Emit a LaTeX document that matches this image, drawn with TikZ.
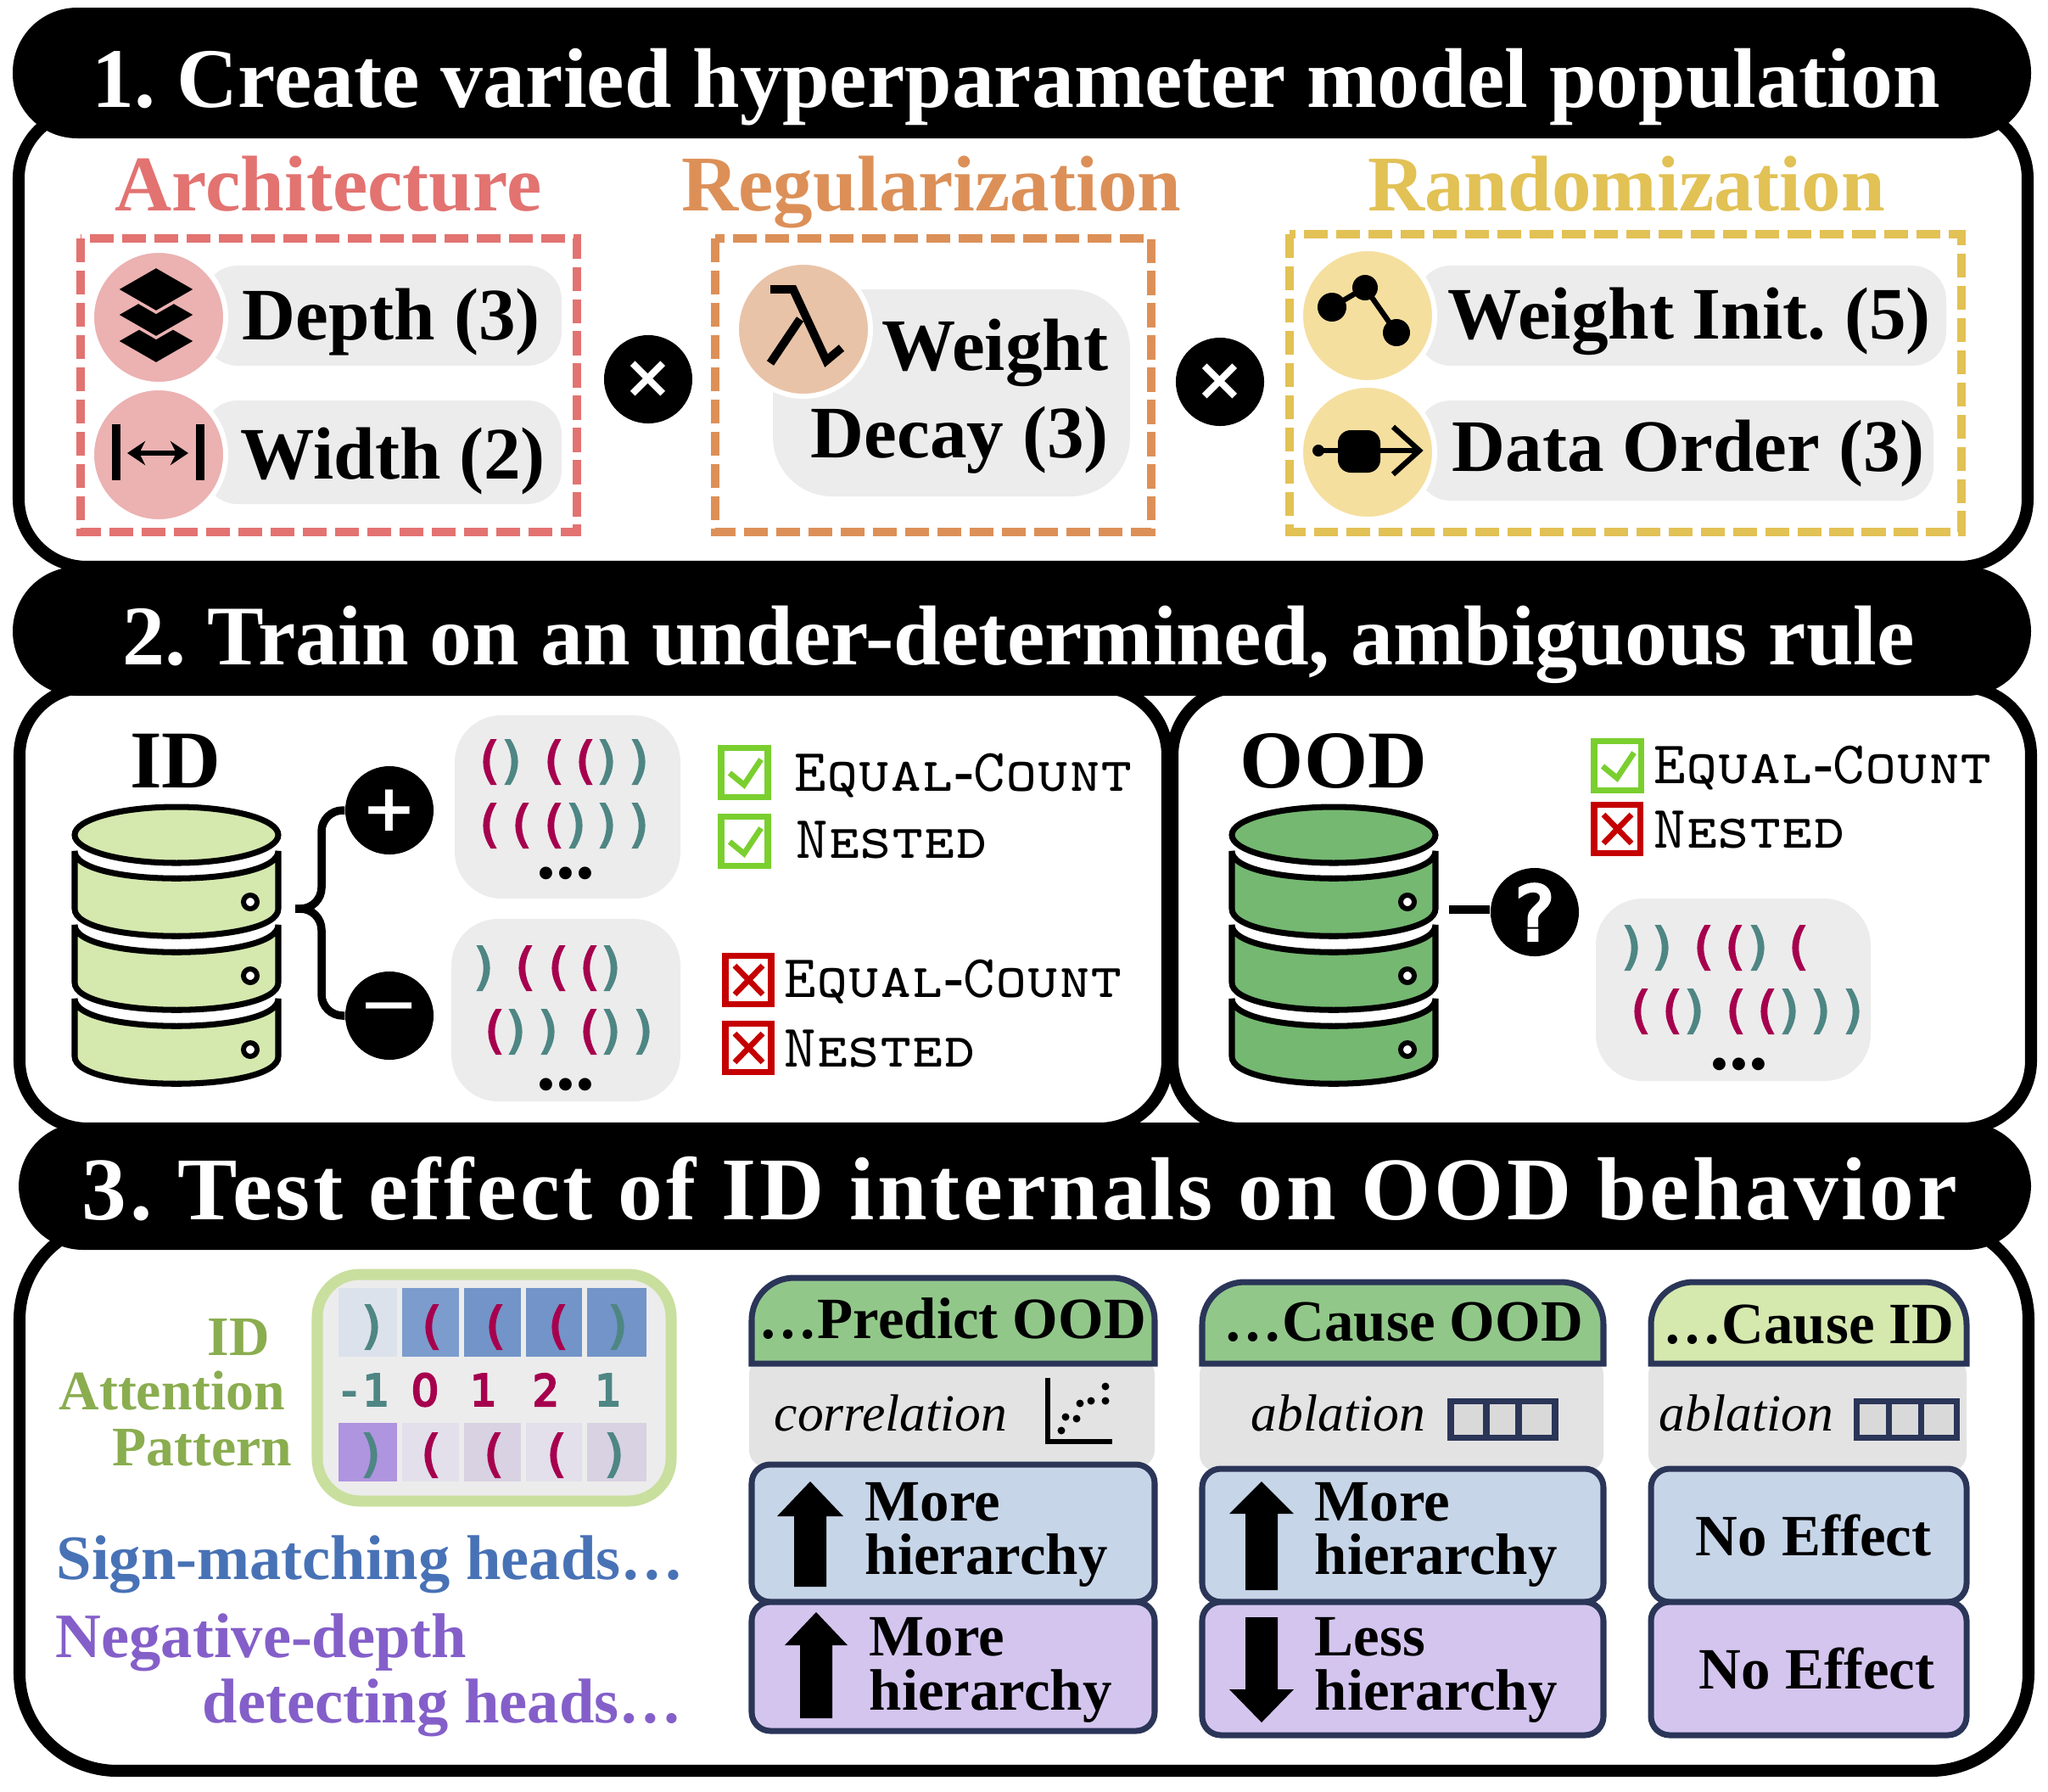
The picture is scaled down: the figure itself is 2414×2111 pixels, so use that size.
\documentclass[tikz,border=0pt]{standalone}
\usepackage{fontspec}
\setmainfont{Liberation Serif}
\newfontfamily\symfont{DejaVu Sans}
\newfontfamily\parfont[FakeBold=4]{DejaVu Sans Mono}
\newfontfamily\numfont[FakeBold=5]{DejaVu Sans Mono}
\newfontfamily\zerofont[FakeBold=5]{DejaVu Sans}
\usetikzlibrary{arrows.meta}

\definecolor{archred}{HTML}{E27371}
\definecolor{archpale}{HTML}{ECB1B1}
\definecolor{regorange}{HTML}{DC9058}
\definecolor{regpale}{HTML}{E9C3A7}
\definecolor{randyellow}{HTML}{E2C155}
\definecolor{randpale}{HTML}{F5DF9F}
\definecolor{cardgrey}{HTML}{ECECEC}
\definecolor{methgrey}{HTML}{E3E3E3}
\definecolor{ablgrey}{HTML}{D9D9D9}
\definecolor{idgreen}{HTML}{D5E8AE}
\definecolor{oodgreen}{HTML}{75B871}
\definecolor{hdrgreen}{HTML}{92C78A}
\definecolor{parred}{HTML}{A6004E}
\definecolor{parteal}{HTML}{4E8684}
\definecolor{okgreen}{HTML}{7ACF2F}
\definecolor{badred}{HTML}{C50000}
\definecolor{attnframe}{HTML}{C9DF9E}
\definecolor{attnolive}{HTML}{8AAD4F}
\definecolor{signblue}{HTML}{4872B6}
\definecolor{negpurple}{HTML}{845FC9}
\definecolor{resblue}{HTML}{C7D5E8}
\definecolor{respurple}{HTML}{D4C5EF}
\definecolor{navy}{HTML}{2A3558}
\definecolor{cellpale}{HTML}{DCE2EB}
\definecolor{cellmid}{HTML}{7C9CCD}
\definecolor{celldeep}{HTML}{7394C8}
\definecolor{negdeep}{HTML}{AF94E0}
\definecolor{negpale}{HTML}{E3E0EB}
\definecolor{negmid}{HTML}{D8D2E2}

\newcommand{\opn}{\textcolor{parred}{(}}
\newcommand{\cls}{\textcolor{parteal}{)}}
\newcommand{\eqcount}{Equal{\rmfamily\upshape\bfseries -}Count}
\newcommand{\parrow}[2]{\foreach \parx/\parch in {#2} \node[parglyph] (par-\parx-#1) at (\parx,#1) {\parch};}

\tikzset{
	panel/.style={draw=black,line width=4pt,fill=white},
	titlebar/.style={fill=black,rounded corners=0.76cm},
	lbl/.style={anchor=base west,inner sep=0pt},
	titletext/.style={lbl,text=white,font=\fontsize{28.4pt}{30pt}\selectfont\bfseries},
	cattext/.style={anchor=base,inner sep=0pt,font=\fontsize{26.45pt}{28pt}\selectfont\bfseries},
	itemtext/.style={lbl,font=\fontsize{24.8pt}{26pt}\selectfont\bfseries},
	dashbox/.style={line width=2.6pt,dash pattern=on 8pt off 2.8pt},
	iconcirc/.style={draw=white,line width=1.7pt},
	opcirc/.style={circle,fill=black,inner sep=0pt,text=white,minimum size=1.04cm},
	parglyph/.style={inner sep=0pt,font=\parfont\fontsize{16.5pt}{16pt}\selectfont},
	dbedge/.style={draw=black,line width=2pt},
	linkline/.style={draw=black,line width=2.7pt},
	ruletext/.style={lbl,font=\ttfamily\scshape\fontsize{20.3pt}{22pt}\selectfont},
	dotstext/.style={anchor=base,inner sep=0pt,font=\fontsize{26pt}{28pt}\selectfont\bfseries},
	attntext/.style={lbl,text=attnolive,font=\fontsize{18.7pt}{22pt}\selectfont\bfseries},
	headstext/.style={lbl,font=\fontsize{21.2pt}{24pt}\selectfont\bfseries},
	depthnum/.style={inner sep=0pt,font=\numfont\fontsize{14.5pt}{16pt}\selectfont},
	cardedge/.style={draw=navy,line width=2pt},
	restext/.style={lbl,font=\fontsize{19.6pt}{22pt}\selectfont\bfseries},
	methtext/.style={lbl,font=\fontsize{17.5pt}{20pt}\selectfont\itshape},
}

\begin{document}
\frenchspacing
\begin{tikzpicture}[x=0.01cm,y=-0.01cm]
	\useasboundingbox (0,0) rectangle (2414,2111);

	% panels and title bars
	\draw[panel,rounded corners=0.8cm] (22,130) rectangle (2390,668);
	\draw[panel,rounded corners=0.8cm] (1382,810) rectangle (2394,1330);
	\draw[panel,rounded corners=0.8cm] (23,810) rectangle (1376,1330);
	\draw[panel,rounded corners=1.15cm] (23,1440) rectangle (2391,2087);
	\fill[titlebar] (15,9) rectangle (2394,163);
	\fill[titlebar] (15,668) rectangle (2394,820);
	\fill[titlebar] (22,1323) rectangle (2394,1473);
	\node[titletext] (title1) at (108,126) {1. Create varied hyperparameter model population};
	\node[titletext,font=\fontsize{28.45pt}{30pt}\selectfont\bfseries] (title2) at (144,783) {2. Train on an under-determined, ambiguous rule};
	\node[titletext,font=\fontsize{30pt}{32pt}\selectfont\bfseries\addfontfeature{LetterSpace=3.5}] (title3) at (96,1437) {3. Test effect of ID internals on OOD behavior};

	% hyperparameters
	\node[cattext,text=archred] (archlbl) at (387,248) {Architecture};
	\node[cattext,text=regorange] (reglbl) at (1098,248) {Regularization};
	\node[cattext,text=randyellow] (randlbl) at (1917,248) {Randomization};
	\draw[dashbox,draw=archred] (95,281) rectangle (680,627);
	\draw[dashbox,draw=regorange] (843,281) rectangle (1357,627);
	\draw[dashbox,draw=randyellow] (1520,276) rectangle (2312,627);

	\fill[cardgrey,rounded corners=0.4cm] (240,313) rectangle (662,431);
	\fill[cardgrey,rounded corners=0.4cm] (240,472) rectangle (662,594);
	\fill[cardgrey,rounded corners=0.7cm] (911,341) rectangle (1332,585);
	\fill[cardgrey,rounded corners=0.4cm] (1670,313) rectangle (2294,431);
	\fill[cardgrey,rounded corners=0.4cm] (1670,472) rectangle (2279,590);
	\draw[iconcirc,fill=archpale] (187,374) circle (79);
	\draw[iconcirc,fill=archpale] (187,536) circle (79);
	\draw[iconcirc,fill=regpale] (947,388) circle (79);
	\draw[iconcirc,fill=randpale] (1612,372) circle (79);
	\draw[iconcirc,fill=randpale] (1612,533) circle (79);

	% layers icon
	\foreach \ly in {402,371,341}
		\draw[draw=archpale,line width=1pt,fill=black] (137,\ly) -- (184,\ly-27) -- (231,\ly) -- (184,\ly+27) -- cycle;
	% width icon
	\draw[line width=2.6pt] (137,500) -- (137,566);
	\draw[line width=2.6pt] (236,500) -- (236,566);
	\draw[line width=1.7pt,{Stealth[length=6pt,width=8pt]}-{Stealth[length=6pt,width=8pt]}] (150,534) -- (222,534);
	% lambda icon
	\draw[line width=2.8pt] (908,341) -- (935,341) -- (974,425) -- (992,410);
	\draw[line width=2.8pt] (943,376) -- (908,428);
	% graph icon
	\draw[line width=1.8pt] (1570,362) -- (1609,339) -- (1646,392);
	\fill (1570,362) circle (17);
	\fill (1609,339) circle (15);
	\fill (1646,392) circle (16);
	% data order icon
	\draw[line width=1.5pt] (1554,531) -- (1670,531);
	\draw[line width=1.8pt] (1642,503) -- (1673,531) -- (1642,559);
	\fill (1554,531) circle (7);
	\fill[rounded corners=0.15cm] (1577,507) rectangle (1627,557);

	\node[itemtext] (depth) at (285,400) {Depth (3)};
	\node[itemtext] (width) at (283,564) {Width (2)};
	\node[itemtext] (wdecay1) at (1039,436) {Weight};
	\node[itemtext] (wdecay2) at (955,539) {Decay (3)};
	\node[itemtext] (winit) at (1706,399) {Weight Init. (5)};
	\node[itemtext] (dorder) at (1711,555) {Data Order (3)};
	\node[opcirc,font=\symfont\bfseries\fontsize{20pt}{20pt}\selectfont] (times1) at (764,447) {×};
	\node[opcirc,font=\symfont\bfseries\fontsize{20pt}{20pt}\selectfont] (times2) at (1438,450) {×};

	% ID data
	\node[anchor=base,inner sep=0pt,font=\fontsize{27.5pt}{30pt}\selectfont\bfseries] (idlbl) at (207,928) {ID};
	\node[anchor=base,inner sep=0pt,font=\fontsize{27.5pt}{30pt}\selectfont\bfseries] (oodlbl) at (1572,928) {OOD};
	\foreach \dbx/\dbc in {208/idgreen,1572/oodgreen} {
		\draw[dbedge,fill=\dbc] (\dbx,984) ellipse [x radius=120,y radius=33];
		\foreach \ly in {1003,1090,1177} {
			\draw[dbedge,fill=\dbc] (\dbx-120,\ly) -- (\dbx-120,\ly+68) .. controls (\dbx-120,\ly+111) and (\dbx+120,\ly+111) .. (\dbx+120,\ly+68) -- (\dbx+120,\ly) .. controls (\dbx+120,\ly+43) and (\dbx-120,\ly+43) .. (\dbx-120,\ly) -- cycle;
			\draw[line width=1.7pt,fill=white] (\dbx+87,\ly+60) circle (8);
		}
	}
	\coordinate (idstack) at (348,1071);
	\coordinate (oodstack) at (1708,1072);
	\node[opcirc,font=\symfont\bfseries\fontsize{22pt}{22pt}\selectfont] (plus) at (459,955) {+};
	\node[opcirc,font=\symfont\fontsize{24.5pt}{24pt}\selectfont] (minus) at (459,1197) {\raisebox{-1.7pt}{−}};
	\node[opcirc,font=\zerofont\fontsize{25pt}{25pt}\selectfont] (qmark) at (1809,1075) {?};
	\draw[linkline,rounded corners=0.25cm] (idstack) -- (379,1071) -- (379,955) -- (plus);
	\draw[linkline,rounded corners=0.25cm] (idstack) -- (379,1071) -- (379,1197) -- (minus);
	\draw[linkline] (oodstack) -- (oodstack -| qmark.west);

	% example strings
	\fill[cardgrey,rounded corners=0.55cm] (536,843) rectangle (802,1059);
	\fill[cardgrey,rounded corners=0.55cm] (532,1083) rectangle (802,1298);
	\fill[cardgrey,rounded corners=0.55cm] (1881,1059) rectangle (2205,1274);
	\parrow{898}{576/\opn,604/\cls,652/\opn,689/\opn,716/\cls,754/\cls}
	\parrow{973}{576/\opn,614/\opn,652/\opn,680/\cls,716/\cls,754/\cls}
	\parrow{1141}{571/\cls,618/\opn,657/\opn,694/\opn,721/\cls}
	\parrow{1216}{582/\opn,609/\cls,647/\cls,694/\opn,721/\cls,759/\cls}
	\parrow{1117}{1924/\cls,1960/\cls,2007/\opn,2044/\opn,2073/\cls,2119/\opn}
	\parrow{1192}{1933/\opn,1970/\opn,1998/\cls,2045/\opn,2082/\opn,2110/\cls,2147/\cls,2185/\cls}
	\node[dotstext] (dots1) at (667,1035) {...};
	\node[dotstext] (dots2) at (667,1284) {...};
	\node[dotstext] (dots3) at (2050,1260) {...};

	% rule checks
	\foreach \bx/\by in {850/881,850/962,1879/873} {
		\draw[line width=2pt,draw=okgreen] (\bx,\by) rectangle ++(55,58);
		\draw[line width=1.9pt,draw=okgreen] (\bx+10,\by+30) -- (\bx+27,\by+44) -- (\bx+47,\by+14);
	}
	\foreach \bx/\by in {855/1126,855/1206,1879/948} {
		\draw[line width=2pt,draw=badred] (\bx,\by) rectangle ++(54,57);
		\draw[line width=1.9pt,draw=badred] (\bx+11,\by+12) -- (\bx+44,\by+46);
		\draw[line width=1.9pt,draw=badred] (\bx+44,\by+12) -- (\bx+11,\by+46);
	}
	\node[ruletext] (eq1) at (936,932) {\eqcount};
	\node[ruletext] (ne1) at (938,1011) {Nested};
	\node[ruletext] (eq2) at (924,1175) {\eqcount};
	\node[ruletext] (ne2) at (924,1257) {Nested};
	\node[ruletext] (eq3) at (1949,923) {\eqcount};
	\node[ruletext] (ne3) at (1949,999) {Nested};

	% attention pattern
	\draw[draw=attnframe,line width=3.7pt,fill=cardgrey,rounded corners=0.5cm] (374,1502) rectangle (791,1769);
	\foreach \xa/\xb/\ca/\cb in {399/468/cellpale/negdeep,474/541/cellmid/negpale,547/614/celldeep/negmid,620/686/celldeep/negpale,692/762/celldeep/negmid} {
		\fill[\ca] (\xa,1518) rectangle (\xb,1599);
		\fill[\cb] (\xa,1677) rectangle (\xb,1746);
	}
	\parrow{1564}{439/\cls,508/\opn,583/\opn,657/\opn,729/\cls}
	\parrow{1715}{438/\cls,507/\opn,581/\opn,655/\opn,725/\cls}
	\node[depthnum,text=parteal] (dm1) at (427,1638) {-1};
	\node[depthnum,text=parred,font=\zerofont\fontsize{14.5pt}{16pt}\selectfont] (d0) at (501,1638) {0};
	\node[depthnum,text=parred] (d1) at (569,1638) {1};
	\node[depthnum,text=parred] (d2) at (643,1638) {2};
	\node[depthnum,text=parteal] (d3) at (716,1638) {1};
	\node[attntext] (attn1) at (244,1597) {ID};
	\node[attntext] (attn2) at (69,1661) {Attention};
	\node[attntext] (attn3) at (132,1727) {Pattern};
	\node[headstext,text=signblue] (signh) at (66,1861) {Sign-matching heads…};
	\node[headstext,text=negpurple] (negh1) at (65,1953) {Negative-depth};
	\node[headstext,text=negpurple] (negh2) at (238,2030) {detecting heads…};

	% result columns
	\foreach \xl/\xr/\gy/\hc/\ty in {886/1361/1723/hdrgreen/1503,1417/1890/1728/hdrgreen/1508,1946/2318/1728/idgreen/1508} {
		\fill[methgrey,rounded corners=0.2cm] (\xl-3,1600) rectangle (\xr,\gy+6);
		\draw[cardedge,fill=\hc] (\xl,1607) {[rounded corners=0.5cm] -- (\xl,\ty+3) -- (\xr,\ty+3)} -- (\xr,1607) -- cycle;
		\draw[cardedge,fill=resblue,rounded corners=0.22cm] (\xl,\gy+3) rectangle (\xr,1888);
	}
	\draw[cardedge,fill=respurple,rounded corners=0.22cm] (886,1888) rectangle (1361,2040);
	\draw[cardedge,fill=respurple,rounded corners=0.22cm] (1417,1888) rectangle (1890,2045);
	\draw[cardedge,fill=respurple,rounded corners=0.22cm] (1946,1888) rectangle (2318,2045);

	\foreach \ax/\tipy/\bsy/\endy/\hw in {955/1746/1787/1870/39,962/1900/1939/2025/37,1487/1746/1784/1874/38,1487/2030/1991/1906/38}
		\fill (\ax-\hw,\bsy) -- (\ax,\tipy) -- (\ax+\hw,\bsy) -- (\ax+19,\bsy) -- (\ax+19,\endy) -- (\ax-19,\endy) -- (\ax-19,\bsy) -- cycle;

	\node[restext] (hdr1) at (894,1577) {…Predict OOD};
	\node[restext] (hdr2) at (1442,1580) {…Cause OOD};
	\node[restext] (hdr3) at (1960,1583) {…Cause ID};
	\node[methtext] (meth1) at (912,1686) {correlation};
	\node[methtext] (meth2) at (1474,1686) {ablation};
	\node[methtext] (meth3) at (1955,1686) {ablation};
	% scatter icon
	\draw[line width=1.5pt] (1235,1624) -- (1235,1699) -- (1311,1699);
	\foreach \sx/\sy in {1251/1686,1256/1670,1269/1672,1273/1654,1286/1651,1303/1651,1303/1634}
		\fill (\sx,\sy) circle (4.5);
	% ablation icons
	\foreach \xa/\xb/\xc/\xd in {1710/1752/1790/1833,2188/2226/2264/2306} {
		\draw[cardedge,fill=ablgrey] (\xa,1651) rectangle (\xd,1694);
		\draw[cardedge] (\xb,1651) -- (\xb,1694);
		\draw[cardedge] (\xc,1651) -- (\xc,1694);
	}
	\node[restext] (more1a) at (1019,1792) {More};
	\node[restext] (more1b) at (1019,1855) {hierarchy};
	\node[restext] (more2a) at (1024,1951) {More};
	\node[restext] (more2b) at (1024,2015) {hierarchy};
	\node[restext] (more3a) at (1549,1792) {More};
	\node[restext] (more3b) at (1549,1855) {hierarchy};
	\node[restext] (less1a) at (1549,1951) {Less};
	\node[restext] (less1b) at (1549,2015) {hierarchy};
	\node[restext] (none1) at (1998,1833) {No Effect};
	\node[restext] (none2) at (2002,1990) {No Effect};
\end{tikzpicture}
\end{document}
